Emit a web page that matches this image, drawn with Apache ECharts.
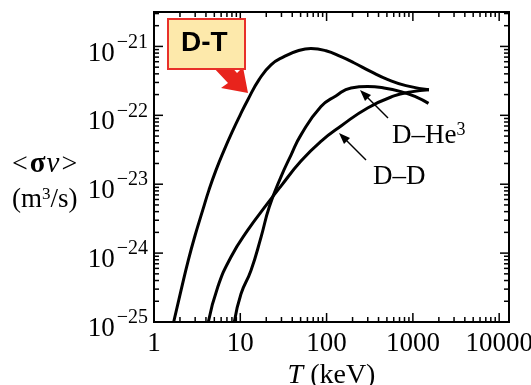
<!DOCTYPE html>
<html>
<head>
<meta charset="utf-8">
<script src="https://cdn.jsdelivr.net/npm/echarts@6/dist/echarts.min.js"></script>
<style>
  html, body { margin: 0; padding: 0; background: #ffffff; }
  #chart { width: 531px; height: 385px; }
</style>
</head>
<body>
<div id="chart"></div>
<script>
// Fusion reactivity <σv> (m^3/s) versus temperature T (keV)
const dtData = [
  [1.69, 1.0e-25], [2.06, 2.9e-25], [2.5, 7.9e-25], [2.99, 1.8e-24], [3.67, 4.2e-24],
  [4.33, 8.2e-24], [5.23, 1.6e-23], [6.48, 3.1e-23], [8.23, 6.1e-23], [9.93, 1.0e-22],
  [12.2, 1.67e-22], [16.5, 3.3e-22], [22.7, 5.4e-22], [32.1, 7.1e-22], [46.6, 8.65e-22],
  [65.9, 9.3e-22], [98.4, 8.65e-22], [147, 7.1e-22], [207, 5.8e-22], [327, 4.3e-22],
  [514, 3.3e-22], [831, 2.7e-22], [1535, 2.35e-22]
];
const dhe3Data = [
  [8.52, 1.0e-25], [10.2, 2.57e-25], [13.3, 5.6e-25], [17.4, 1.71e-24], [21.7, 4.7e-24],
  [29.6, 1.28e-23], [38.7, 2.65e-23], [50.5, 5.2e-23], [86.1, 1.34e-22], [128, 1.91e-22],
  [192, 2.5e-22], [299, 2.62e-22], [462, 2.5e-22], [728, 2.21e-22], [1086, 1.85e-22],
  [1517, 1.49e-22]
];
const ddData = [
  [4.26, 1.0e-25], [5.47, 3.2e-25], [7.8, 8.8e-25], [12.2, 2.15e-24], [20.8, 5.3e-24],
  [29.6, 9.4e-24], [50.5, 2.17e-23], [86.1, 4.2e-23], [147, 7.0e-23], [299, 1.28e-22],
  [604, 1.91e-22], [951, 2.19e-22], [1537, 2.35e-22]
];

// axis ranges (T in keV, <σv> in m^3/s)
const xMin = 1, xMax = 13000;
const yMin = 1e-25, yMax = 3.16e-21;

// the value axis works in units of 1e-25 m^3/s; labels convert back to powers of ten
const Y_UNIT_EXP = -25;
const toAxis = v => v / Math.pow(10, Y_UNIT_EXP);
const scaled = data => data.map(([t, s]) => [t, toAxis(s)]);

const serif = '"Liberation Serif", "DejaVu Serif", serif';

function isDecade(v) {
  const e = Math.log10(v);
  return Math.abs(e - Math.round(e)) < 1e-6;
}

// decades and their 2..9 multiples between lo and hi
function logTicks(lo, hi) {
  const major = [], minor = [];
  const e0 = Math.floor(Math.log10(lo)), e1 = Math.ceil(Math.log10(hi));
  for (let e = e0; e <= e1; e++) {
    for (let k = 1; k <= 9; k++) {
      const v = k * Math.pow(10, e);
      if (v < lo * 0.9999 || v > hi * 1.0001) continue;
      (k === 1 ? major : minor).push(v);
    }
  }
  return { major, minor };
}
const yAxisMin = toAxis(yMin), yAxisMax = toAxis(yMax);
const xTicks = logTicks(xMin, xMax);
const yTicks = logTicks(yAxisMin, yAxisMax);

const chart = echarts.init(document.getElementById('chart'), null, { renderer: 'canvas' });

const curveStyle = { color: '#000', width: 3 };

const option = {
  backgroundColor: '#ffffff',
  animation: false,
  grid: {
    left: 154, right: 22, top: 12, bottom: 63,
    containLabel: false, outerBoundsMode: 'none',
    show: true, borderColor: '#000', borderWidth: 2, backgroundColor: 'transparent'
  },
  xAxis: {
    type: 'log', logBase: 10, min: xMin, max: xMax, splitNumber: 5,
    axisLine: { show: false }, axisTick: { show: false }, splitLine: { show: false },
    axisLabel: {
      margin: 8, color: '#000', fontFamily: serif, fontSize: 27,
      showMaxLabel: true, showMinLabel: true, hideOverlap: false,
      formatter: v => isDecade(v) ? String(Math.round(v)) : ''
    },
    name: '{i|T} (keV)', nameLocation: 'middle', nameGap: 34,
    nameTextStyle: {
      color: '#000', fontFamily: serif, fontSize: 28,
      rich: { i: { fontFamily: serif, fontSize: 28, fontStyle: 'italic', color: '#000' } }
    }
  },
  yAxis: {
    type: 'log', logBase: 10, min: yAxisMin, max: yAxisMax, splitNumber: 5,
    axisLine: { show: false }, axisTick: { show: false }, splitLine: { show: false },
    axisLabel: {
      margin: 6, color: '#000', fontFamily: serif,
      showMaxLabel: true, showMinLabel: true,
      formatter: v => {
        if (!isDecade(v)) return '';
        const e = Math.round(Math.log10(v)) + Y_UNIT_EXP;
        return '{b|10}{s|\u2212' + Math.abs(e) + '}';
      },
      rich: {
        b: { fontFamily: serif, fontSize: 27, color: '#000', padding: [14, 2, 0, 0] },
        s: { fontFamily: serif, fontSize: 20, color: '#000', padding: [0, 0, 8, 0] }
      }
    }
  },
  series: [
    {
      // major and minor ticks on all four sides of the plot frame
      type: 'custom', silent: true, clip: false, z: 5,
      data: [[xMin, yAxisMin]],
      renderItem: (params, api) => {
        const children = [];
        const top = api.coord([xMin, yAxisMax])[1];
        const bottom = api.coord([xMin, yAxisMin])[1];
        const left = api.coord([xMin, yAxisMin])[0];
        const right = api.coord([xMax, yAxisMin])[0];
        const st = { stroke: '#000', lineWidth: 1.5 };
        const addX = (v, len) => {
          const x = api.coord([v, yAxisMin])[0];
          children.push({ type: 'line', shape: { x1: x, y1: bottom, x2: x, y2: bottom - len }, style: st });
          children.push({ type: 'line', shape: { x1: x, y1: top, x2: x, y2: top + len }, style: st });
        };
        const addY = (v, len) => {
          const y = api.coord([xMin, v])[1];
          children.push({ type: 'line', shape: { x1: left, y1: y, x2: left + len, y2: y }, style: st });
          children.push({ type: 'line', shape: { x1: right, y1: y, x2: right - len, y2: y }, style: st });
        };
        xTicks.major.forEach(v => addX(v, 9));
        xTicks.minor.forEach(v => addX(v, 5));
        yTicks.major.forEach(v => addY(v, 9));
        yTicks.minor.forEach(v => addY(v, 5));
        return { type: 'group', children };
      }
    },
    {
      name: 'D-T', type: 'line', data: scaled(dtData), smooth: 0.5, showSymbol: false,
      lineStyle: curveStyle, z: 3
    },
    {
      name: 'D-He3', type: 'line', data: scaled(dhe3Data), smooth: 0.5, showSymbol: false,
      lineStyle: curveStyle, z: 3
    },
    {
      name: 'D-D', type: 'line', data: scaled(ddData), smooth: 0.5, showSymbol: false,
      lineStyle: curveStyle, z: 3
    }
  ],
  graphic: [
    // y-axis title
    {
      type: 'text', left: 12, top: 150, z: 10,
      style: {
        text: '<{b|σ}{i|v}>', fontFamily: serif, fontSize: 28, fill: '#000',
        rich: {
          b: { fontFamily: serif, fontSize: 29, fontWeight: 'bold', fill: '#000', padding: [0, 1, 0, 2] },
          i: { fontFamily: serif, fontSize: 29, fontStyle: 'italic', fill: '#000', padding: [0, 2, 0, 0] }
        }
      }
    },
    {
      type: 'text', left: 12, top: 186, z: 10,
      style: {
        text: '(m{s|3}/s)', fontFamily: serif, fontSize: 27, fill: '#000',
        rich: {
          s: { fontFamily: serif, fontSize: 17, fill: '#000', padding: [0, 0, 11, 0] }
        }
      }
    },
    // curve labels with pointer arrows
    {
      type: 'text', left: 392, top: 121, z: 10,
      style: {
        text: 'D\u2013He{s|3}', fontFamily: serif, fontSize: 27, fill: '#000',
        rich: { s: { fontFamily: serif, fontSize: 18, fill: '#000', padding: [0, 0, 12, 0] } }
      }
    },
    {
      type: 'text', left: 373, top: 163, z: 10,
      style: { text: 'D\u2013D', fontFamily: serif, fontSize: 27, fill: '#000' }
    },
    {
      type: 'line', z: 10,
      shape: { x1: 388, y1: 118, x2: 366, y2: 96 },
      style: { stroke: '#000', lineWidth: 1.4 }
    },
    {
      type: 'polygon', z: 10,
      shape: { points: [[360, 90], [371, 95], [365, 101]] },
      style: { fill: '#000' }
    },
    {
      type: 'line', z: 10,
      shape: { x1: 366, y1: 160, x2: 345, y2: 139 },
      style: { stroke: '#000', lineWidth: 1.4 }
    },
    {
      type: 'polygon', z: 10,
      shape: { points: [[339, 133], [350, 138], [344, 144]] },
      style: { fill: '#000' }
    },
    // D-T callout box with red arrow
    {
      type: 'polygon', z: 11,
      shape: { points: [[212, 66], [223, 57], [237, 73], [243, 67], [248, 93], [221, 88], [228, 83]] },
      style: { fill: '#e8231c' }
    },
    {
      type: 'rect', z: 12,
      shape: { x: 168, y: 19, width: 77, height: 50 },
      style: { fill: '#fde9ab', stroke: '#e8302a', lineWidth: 2 }
    },
    {
      type: 'text', z: 13, left: 181, top: 29,
      style: { text: 'D-T', fontFamily: '"Liberation Sans", Arial, sans-serif', fontSize: 28, fontWeight: 'bold', fill: '#000' }
    }
  ]
};

chart.setOption(option);
</script>
</body>
</html>
